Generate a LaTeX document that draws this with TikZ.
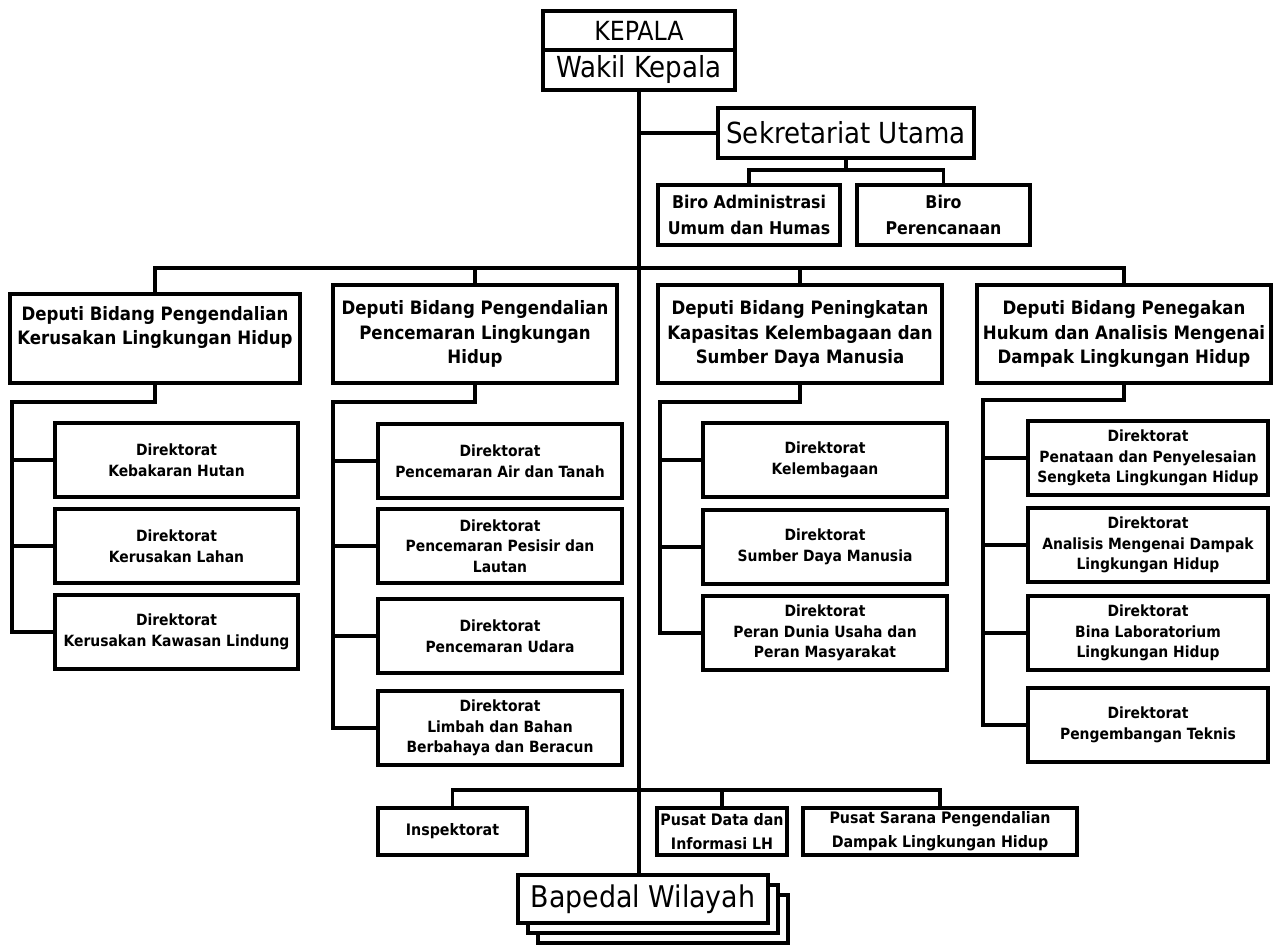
\documentclass[tikz,border=0pt]{standalone}
\usepackage{fontspec}
\setmainfont{DejaVu Sans Condensed}
\usetikzlibrary{shadows}
\tikzset{
  kotak/.style={draw,line width=1.8pt,align=center,inner sep=1pt},
  pimpinan/.style={kotak,font=\fontsize{16.5}{20}\selectfont},
  biro/.style={kotak,font=\bfseries\fontsize{10}{14.5}\selectfont,minimum height=1.2cm},
  deputi/.style={kotak,font=\bfseries\fontsize{10.5}{13.9}\selectfont,minimum height=1.96cm},
  direktorat/.style={kotak,font=\bfseries\fontsize{8.8}{11.8}\selectfont,minimum height=1.48cm},
  pusat/.style={kotak,font=\bfseries\fontsize{9}{13.6}\selectfont,minimum height=0.94cm},
  garis/.style={line width=1.8pt}
}
\begin{document}
\begin{tikzpicture}[x=0.02cm,y=-0.02cm]
\useasboundingbox (0,0) rectangle (1283,946);
\node[pimpinan,font=\fontsize{15}{18}\selectfont,minimum width=3.84cm,minimum height=0.78cm] (kpl) at (639,30.5) {KEPALA};
\node[pimpinan,minimum width=3.84cm,minimum height=0.8cm] (wkl) at (639,70) {Wakil Kepala};
\node[pimpinan,minimum width=5.12cm,minimum height=1.0cm] (sek) at (846,133) {Sekretariat Utama};
\node[biro,minimum width=3.64cm] (biroa) at (749,215) {Biro Administrasi\\Umum dan Humas};
\node[biro,minimum width=3.46cm] (birop) at (943.5,215) {Biro\\Perencanaan};
\coordinate (jbiro) at (846,170);
\draw[garis] (wkl.south |- sek.west) -- (sek.west);
\draw[garis] (sek.south) -- (jbiro);
\draw[garis] (biroa.north) |- (jbiro) -| (birop.north);
% deputi
\node[deputi,minimum width=5.8cm,minimum height=1.78cm] (d1) at (155,338.5) {Deputi Bidang Pengendalian\\Kerusakan Lingkungan Hidup\\[-3pt]\strut};
\node[deputi,minimum width=5.68cm] (d2) at (475,334) {Deputi Bidang Pengendalian\\Pencemaran Lingkungan\\Hidup};
\node[deputi,minimum width=5.68cm] (d3) at (800,334) {Deputi Bidang Peningkatan\\Kapasitas Kelembagaan dan\\Sumber Daya Manusia};
\node[deputi,minimum width=5.88cm] (d4) at (1124,334) {Deputi Bidang Penegakan\\Hukum dan Analisis Mengenai\\Dampak Lingkungan Hidup};
\coordinate (jdep) at (637,268);
\draw[garis] (d1.north) |- (jdep) -| (d4.north);
\foreach \d in {d2,d3}{
  \draw[garis] (\d.north) -- (\d.north |- jdep);}
% direktorat
\coordinate (k1) at (12,402);
\coordinate (k2) at (333,402);
\coordinate (k3) at (660,402);
\coordinate (k4) at (983,400);
\foreach \n/\y/\t in {a/460/{Direktorat\\Kebakaran Hutan},b/546/{Direktorat\\Kerusakan Lahan},c/632/{Direktorat\\Kerusakan Kawasan Lindung}}{
  \node[direktorat,minimum width=4.86cm] (d1\n) at (176.5,\y) {\t};
  \draw[garis] (d1\n.west) -- (d1\n.west -| k1);}
\draw[garis] (d1.south) |- (k1) |- (d1c.west);
\foreach \n/\y/\t in {a/461/{Direktorat\\Pencemaran Air dan Tanah},b/546/{Direktorat\\Pencemaran Pesisir dan\\Lautan},c/636/{Direktorat\\Pencemaran Udara},d/728/{Direktorat\\Limbah dan Bahan\\Berbahaya dan Beracun}}{
  \node[direktorat,minimum width=4.88cm] (d2\n) at (500,\y) {\t};
  \draw[garis] (d2\n.west) -- (d2\n.west -| k2);}
\draw[garis] (d2.south) |- (k2) |- (d2d.west);
\foreach \n/\y/\t in {a/460/{Direktorat\\Kelembagaan},b/547/{Direktorat\\Sumber Daya Manusia},c/633/{Direktorat\\Peran Dunia Usaha dan\\Peran Masyarakat}}{
  \node[direktorat,minimum width=4.88cm] (d3\n) at (825,\y) {\t};
  \draw[garis] (d3\n.west) -- (d3\n.west -| k3);}
\draw[garis] (d3.south) |- (k3) |- (d3c.west);
\foreach \n/\y/\t in {a/458/{Direktorat\\Penataan dan Penyelesaian\\Sengketa Lingkungan Hidup},b/545/{Direktorat\\Analisis Mengenai Dampak\\Lingkungan Hidup},c/633/{Direktorat\\Bina Laboratorium\\Lingkungan Hidup},d/725/{Direktorat\\Pengembangan Teknis}}{
  \node[direktorat,minimum width=4.8cm] (d4\n) at (1148,\y) {\t};
  \draw[garis] (d4\n.west) -- (d4\n.west -| k4);}
\draw[garis] (d4.south) |- (k4) |- (d4d.west);
% bawah
\node[pusat,minimum width=2.98cm] (insp) at (452.5,831.5) {Inspektorat};
\node[pusat,minimum width=2.6cm] (pdi) at (722,831.5) {Pusat Data dan\\Informasi LH};
\node[pusat,minimum width=5.48cm] (pss) at (940,831.5) {Pusat Sarana Pengendalian\\Dampak Lingkungan Hidup};
\coordinate (jbawah) at (637,790);
\draw[garis] (insp.north) |- (jbawah) -| (pss.north);
\draw[garis] (pdi.north) -- (pdi.north |- jbawah);
\node[pimpinan,font=\fontsize{17}{20}\selectfont,fill=white,double copy shadow={shadow xshift=0.2cm,shadow yshift=-0.2cm},minimum width=5cm,minimum height=0.96cm] (bpd) at (643,899) {Bapedal Wilayah};
\draw[garis] (wkl.south) -- (wkl.south |- bpd.north);
\end{tikzpicture}
\end{document}
